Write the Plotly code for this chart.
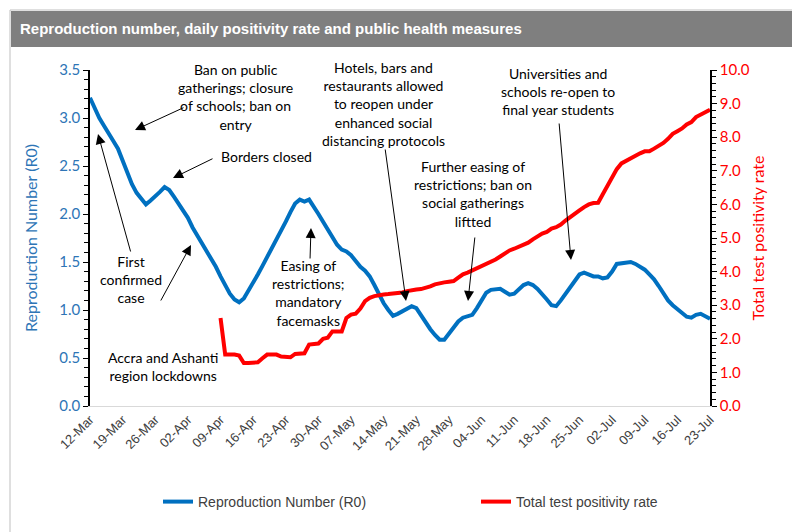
import pandas as pd
import plotly.graph_objects as go

# ---------------- data ----------------
start_date = "2020-03-12"
reproduction_number = [
    3.21, 3.10, 3.00, 2.92, 2.83, 2.76, 2.68, 2.55, 2.43, 2.31,
    2.22, 2.16, 2.10, 2.14, 2.18, 2.23, 2.28, 2.25, 2.18, 2.11,
    2.04, 1.96, 1.86, 1.78, 1.71, 1.63, 1.55, 1.45, 1.35, 1.26,
    1.17, 1.11, 1.08, 1.12, 1.20, 1.29, 1.37, 1.46, 1.55, 1.63,
    1.72, 1.82, 1.92, 2.02, 2.11, 2.15, 2.13, 2.15, 2.08, 2.00,
    1.92, 1.84, 1.75, 1.68, 1.63, 1.61, 1.57, 1.51, 1.45, 1.41,
    1.35, 1.26, 1.16, 1.07, 1.00, 0.94, 0.96, 0.99, 1.02, 1.04,
    1.02, 0.94, 0.87, 0.80, 0.74, 0.69, 0.69, 0.75, 0.82, 0.88,
    0.92, 0.93, 0.95, 1.02, 1.10, 1.18, 1.21, 1.22, 1.22, 1.19,
    1.16, 1.17, 1.22, 1.26, 1.28, 1.26, 1.22, 1.17, 1.11, 1.05,
    1.04, 1.10, 1.17, 1.24, 1.31, 1.37, 1.39, 1.37, 1.35, 1.35,
    1.33, 1.34, 1.40, 1.48, 1.49, 1.49, 1.50, 1.48, 1.45, 1.42,
    1.37, 1.32, 1.25, 1.18, 1.10, 1.05, 1.01, 0.97, 0.93, 0.92,
    0.95, 0.96, 0.94, 0.91,
]
positivity_start = "2020-04-09"
positivity_rate = [
    2.62, 1.53, 1.53, 1.53, 1.50, 1.28, 1.28, 1.28, 1.30, 1.42,
    1.53, 1.53, 1.53, 1.47, 1.45, 1.45, 1.55, 1.57, 1.57, 1.83,
    1.84, 1.86, 2.00, 2.03, 2.22, 2.22, 2.22, 2.62, 2.72, 2.75,
    2.90, 3.12, 3.22, 3.27, 3.31, 3.32, 3.33, 3.34, 3.35, 3.38,
    3.42, 3.46, 3.47, 3.48, 3.51, 3.56, 3.62, 3.66, 3.68, 3.70,
    3.72, 3.82, 3.92, 3.97, 4.03, 4.10, 4.16, 4.22, 4.30, 4.36,
    4.45, 4.55, 4.63, 4.68, 4.74, 4.79, 4.86, 4.96, 5.06, 5.13,
    5.18, 5.28, 5.32, 5.40, 5.52, 5.63, 5.73, 5.82, 5.92, 6.00,
    6.04, 6.05, 6.30, 6.55, 6.82, 7.05, 7.22, 7.30, 7.38, 7.44,
    7.52, 7.58, 7.58, 7.66, 7.74, 7.83, 7.95, 8.10, 8.18, 8.26,
    8.38, 8.45, 8.60, 8.68, 8.76, 8.82,
]
r0_dates = pd.date_range(start_date, periods=len(reproduction_number), freq="D")
pos_dates = pd.date_range(positivity_start, periods=len(positivity_rate), freq="D")

# annotation texts
notes = [
    "Ban on public<br>gatherings; closure<br>of schools; ban on<br>entry",
    "Borders closed",
    "First<br>confirmed<br>case",
    "Accra and Ashanti<br>region lockdowns",
    "Easing of<br>restrictions;<br>mandatory<br>facemasks",
    "Hotels, bars and<br>restaurants allowed<br>to reopen under<br>enhanced social<br>distancing protocols",
    "Further easing of<br>restrictions; ban on<br>social gatherings<br>liftted",
    "Universities and<br>schools re-open to<br>final year students",
]

# ---------------- layout helpers ----------------
W, H = 800, 532
L, R, T, B = 82, 98, 62, 134
PW, PH = W - L - R, H - T - B


def px(x):
    return (x - L) / PW


def py(y):
    return (H - B - y) / PH


BLUE = "#0070C0"
BLUE_TXT = "#2E75B6"
RED = "#FF0000"
NOTE_FONT = dict(family="Lato, Carlito, Calibri, sans-serif", size=14, color="#000000")

fig = go.Figure()
fig.add_trace(go.Scatter(x=r0_dates, y=reproduction_number, mode="lines",
                         name="Reproduction Number (R0)", legend="legend", showlegend=True,
                         line=dict(color=BLUE, width=4)))
fig.add_trace(go.Scatter(x=pos_dates, y=positivity_rate, mode="lines",
                         name="Total test positivity rate", yaxis="y2", legend="legend2",
                         showlegend=True, line=dict(color=RED, width=4)))

# text notes (centre px positions)
note_pos = [(227, 89), (258, 148), (123, 271), (155, 358), (300, 285),
            (375, 96), (465, 186), (550, 83)]
annotations = []
for t, (cx, cy) in zip(notes, note_pos):
    annotations.append(dict(text=t, x=px(cx), y=py(cy), xref="paper", yref="paper",
                            showarrow=False, xanchor="center", yanchor="middle",
                            align="center", font=NOTE_FONT))

# arrows: (tail px, head px)
arrows = [((177, 99), (127, 122)),
          ((206, 150), (165, 170)),
          ((123, 245), (90, 126)),
          ((152, 294), (183, 237)),
          ((302, 252), (303, 220)),
          ((377, 140), (398, 293)),
          ((467, 228), (460, 293)),
          ((551, 114), (563, 252))]
for (tx, ty), (hx, hy) in arrows:
    annotations.append(dict(text="", x=px(hx), y=py(hy), xref="paper", yref="paper",
                            ax=tx - hx, ay=ty - hy, showarrow=True,
                            arrowhead=2, arrowsize=2, arrowwidth=1,
                            arrowcolor="#000000", standoff=0, startstandoff=0))

shapes = [
    dict(type="rect", xref="paper", yref="paper", x0=px(2), x1=px(797), y0=py(529), y1=py(2),
         line=dict(color="#BFBFBF", width=1), fillcolor="rgba(0,0,0,0)", layer="below"),
    dict(type="rect", xref="paper", yref="paper", x0=px(3), x1=px(796), y0=py(39), y1=py(3),
         line=dict(width=0), fillcolor="#7F7F7F", layer="below"),
]

legend_font = dict(family="Liberation Sans, Arial", size=14, color="#404040")

fig.update_layout(
    width=W, height=H,
    margin=dict(l=L, r=R, t=T, b=B),
    paper_bgcolor="white", plot_bgcolor="white",
    showlegend=True,
    title=dict(text="<b>Reproduction number, daily positivity rate and public health measures</b>",
               x=12 / W, xref="container", xanchor="left",
               y=1 - 21 / H, yref="container", yanchor="middle",
               font=dict(family="Liberation Sans Narrow, Arial Narrow, Liberation Sans, Arial",
                         size=15, color="white")),
    xaxis=dict(type="date", range=[start_date, "2020-07-23"],
               tick0=start_date, dtick=7 * 86400000, tickformat="%d-%b",
               tickangle=-45, ticks="", showgrid=False, zeroline=False,
               showline=True, linecolor="#D9D9D9", linewidth=1,
               tickfont=dict(family="Liberation Sans, Arial", size=13, color="#404040")),
    yaxis=dict(range=[0, 3.5], dtick=0.5, tickformat=".1f", showgrid=False, zeroline=False,
               showline=True, linecolor="#000000", linewidth=1.5,
               ticks="outside", ticklen=5, tickcolor="#000000", tickwidth=1,
               minor=dict(dtick=0.1, ticks="outside", ticklen=4, tickcolor="#000000", tickwidth=1),
               tickfont=dict(family="Lato, Carlito, Calibri, sans-serif", size=15, color=BLUE_TXT),
               title=dict(text="Reproduction Number (R0)", standoff=18,
                          font=dict(family="Lato, Carlito, Calibri, sans-serif", size=16, color=BLUE_TXT))),
    yaxis2=dict(range=[0, 10], dtick=1, tickformat=".1f", overlaying="y", side="right",
                showgrid=False, zeroline=False,
                showline=True, linecolor="#000000", linewidth=1.5,
                ticks="outside", ticklen=5, tickcolor="#000000", tickwidth=1,
                minor=dict(dtick=0.2, ticks="outside", ticklen=4, tickcolor="#000000", tickwidth=1),
                tickfont=dict(family="Lato, Carlito, Calibri, sans-serif", size=15, color=RED),
                title=dict(text="Total test positivity rate", standoff=4,
                           font=dict(family="Lato, Carlito, Calibri, sans-serif", size=16, color=RED))),
    legend=dict(orientation="h", x=px(150), xanchor="left", y=py(494), yanchor="middle",
                font=legend_font, bgcolor="rgba(0,0,0,0)", visible=True),
    legend2=dict(orientation="h", x=px(468), xanchor="left", y=py(494), yanchor="middle",
                 font=legend_font, bgcolor="rgba(0,0,0,0)", visible=True),
    annotations=annotations,
    shapes=shapes,
)

fig.write_html("out.html")
